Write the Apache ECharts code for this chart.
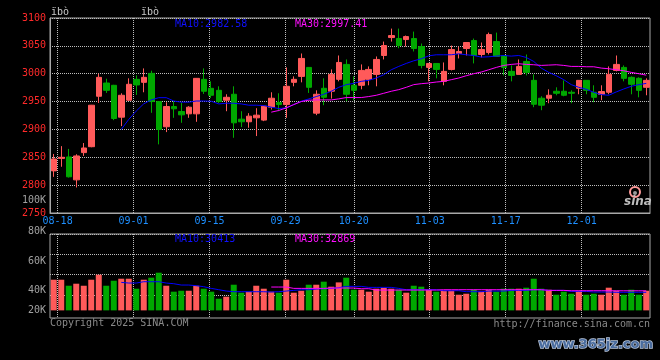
<!DOCTYPE html>
<html>
<head>
<meta charset="utf-8">
<script src="https://cdn.jsdelivr.net/npm/echarts/dist/echarts.min.js"></script>
<style>
html,body{margin:0;padding:0;background:#000;}
#c{width:660px;height:360px;}
</style>
</head>
<body>
<div id="c"></div>
<script>
// ---- data ----
const dates = ['08-15','08-18','08-19','08-20','08-21','08-22','08-25','08-26','08-27','08-28','08-29',
 '09-01','09-02','09-03','09-04','09-05','09-08','09-09','09-10','09-11','09-12',
 '09-15','09-16','09-17','09-18','09-19','09-22','09-23','09-24','09-25','09-26',
 '09-29','09-30','10-09','10-10','10-13','10-14','10-15','10-16','10-17',
 '10-20','10-21','10-22','10-23','10-24','10-27','10-28','10-29','10-30','10-31',
 '11-03','11-04','11-05','11-06','11-07','11-10','11-11','11-12','11-13','11-14',
 '11-17','11-18','11-19','11-20','11-21','11-24','11-25','11-26','11-27','11-28',
 '12-01','12-02','12-03','12-04','12-05','12-08','12-09','12-10','12-11','12-12'];
const tickLabels = ['08-18','09-01','09-15','09-29','10-20','11-03','11-17','12-01'];

const open = [2825.6,2848.0,2850.6,2809.5,2858.4,2869.0,2959.5,2983.3,2979.2,2922.0,
 2952.4,2989.9,2984.5,3000.6,2950.0,2904.8,2941.0,2932.1,2928.0,2928.0,
 2989.9,2973.8,2970.2,2952.4,2963.1,2918.4,2913.7,2920.8,2916.7,2939.9,
 2948.2,2944.6,2984.5,2995.2,3011.3,2929.2,2973.8,2968.5,2989.9,3016.7,
 2979.2,2979.2,2989.9,2998.8,3032.7,3064.9,3063.1,3061.3,3063.1,3048.8,
 3011.3,3018.4,2986.3,3007.7,3036.3,3045.2,3059.5,3034.5,3038.1,3057.7,
 3032.7,3004.2,2998.8,3022.0,2988.1,2956.0,2956.0,2968.5,2968.5,2966.7,
 2973.8,2988.1,2966.7,2963.0,2966.7,3005.9,3011.3,2993.5,2991.7,2975.6];
const close = [2847.0,2850.0,2815.0,2852.4,2866.7,2943.5,2993.5,2970.2,2919.6,2961.3,
 2981.0,2979.8,2993.5,2950.0,2900.0,2941.1,2937.0,2926.2,2939.9,2991.7,
 2968.5,2961.3,2950.0,2957.7,2911.9,2913.7,2923.8,2925.6,2941.7,2956.0,
 2944.6,2977.4,2989.9,3027.4,2975.6,2963.1,2957.7,2998.8,3020.2,2963.1,
 2970.2,3005.9,3007.7,3025.6,3050.6,3068.5,3050.6,3066.7,3045.2,3014.9,
 3018.4,3007.7,3004.2,3043.4,3039.9,3056.0,3032.7,3043.4,3070.2,3031.0,
 3011.3,2997.0,3013.1,3002.4,2945.2,2943.5,2961.3,2964.9,2961.3,2964.9,
 2988.1,2970.2,2957.7,2968.0,2998.8,3016.7,2991.7,2981.0,2970.2,2988.1];
const low = [2814.9,2833.0,2813.7,2795.8,2852.4,2868.0,2947.6,2965.5,2916.6,2906.0,
 2951.0,2961.9,2966.7,2929.8,2873.2,2895.2,2920.8,2911.9,2920.8,2913.7,
 2963.7,2956.6,2947.6,2932.7,2885.0,2904.2,2903.0,2888.1,2914.9,2935.7,
 2932.7,2920.8,2977.4,2984.5,2965.5,2925.6,2943.5,2955.4,2986.3,2950.6,
 2952.4,2972.0,2979.2,2977.4,3025.6,3057.7,3045.8,3048.8,3039.9,3009.5,
 2986.3,2991.7,2979.2,3005.9,3027.4,3032.7,3018.5,3029.2,3034.5,3031.0,
 2997.0,2986.3,2998.8,2997.0,2939.9,2934.5,2947.0,2961.3,2959.5,2947.0,
 2963.1,2963.1,2948.8,2952.4,2963.1,3004.2,2986.3,2963.1,2957.7,2961.3];
const high = [2856.0,2870.0,2865.0,2855.4,2875.6,2944.0,3000.0,2991.0,2980.0,2964.9,
 2991.7,2997.0,3009.5,3005.4,2950.6,2948.8,2950.6,2948.2,2941.7,2992.0,
 3009.5,2986.3,2977.4,2963.1,2977.4,2932.7,2929.2,2938.1,2942.0,2966.7,
 2964.9,3011.3,2995.2,3036.3,3011.5,2970.2,2991.7,3007.7,3032.7,3025.6,
 2995.2,3016.7,3013.1,3031.0,3057.7,3081.0,3081.0,3068.5,3075.6,3054.2,
 3018.4,3018.4,3020.2,3050.6,3048.8,3056.0,3063.1,3056.0,3073.8,3073.8,
 3032.7,3014.9,3025.6,3034.5,2998.8,2959.5,2972.0,2975.6,2988.1,2970.2,
 2988.1,2988.1,2979.2,2979.2,3013.1,3032.7,3014.9,2995.2,2993.5,2991.7];

const ma10 = [null,null,null,null,null,null,null,null,null,2900,
 2918,2933,2946,2953,2957,2957,2951,2949,2949,2951,
 2951,2950.6,2945.8,2947,2947,2945.8,2943.5,2943.5,2942.9,2939.9,
 2937.5,2938.7,2944.6,2950.6,2954.8,2959,2963.1,2968.5,2975.6,2980.4,
 2982.7,2986.3,2988.1,2992.3,2998.2,3007.1,3013.1,3018.5,3023.2,3026.8,
 3032.1,3034,3034,3034,3035.7,3034,3032.7,3029.8,3030.4,3031.6,
 3032.7,3031.6,3032.7,3029.2,3022,3010.1,3002.4,2996.4,2989.3,2980.4,
 2975.6,2972,2966.7,2962.5,2961.3,2967.3,2972.6,2977.4,2980.4,2982.58];
const ma30 = [null,null,null,null,null,null,null,null,null,null,
 null,null,null,null,null,null,null,null,null,null,
 null,null,null,null,null,null,null,null,null,2931,
 2934,2938.7,2944.6,2950,2952.4,2953,2953,2953,2954.8,2957.2,
 2957.2,2957.2,2959,2961.3,2964.9,2968.5,2971.4,2975.6,2980.4,2982.1,
 2983.3,2985.1,2986.3,2989.3,2992.3,2996.4,3000,3003,3007.1,3011.3,
 3014.9,3016.7,3017.9,3016.7,3016.1,3014.9,3015.5,3016.1,3014.9,3013.1,
 3013.1,3012.5,3012.5,3010.1,3008.9,3007.1,3005.3,3002.4,3000,2997.41];

const volume = [51500,51500,41400,44800,41400,51500,59900,41400,49800,53200,
 53200,36400,51500,54900,63300,41400,31400,33000,33000,41400,
 36400,31400,19600,23000,43100,29700,31400,41400,36400,31400,
 29700,51500,29700,33000,43100,43100,48200,39800,47000,54900,
 34700,34700,31400,36400,38100,36400,34700,29700,41400,39800,
 34700,31400,33000,33000,26300,28000,34700,31400,34700,31400,
 36400,36400,36400,38100,53200,36400,34700,26300,31400,28000,
 33000,26300,28000,26300,38100,33000,26300,34700,26300,33000];
const volMa10 = [null,null,null,null,null,null,null,null,null,47040,
 45920,45920,48160,48160,48160,45920,44800,42560,42560,41440,
 39760,36960,34720,32480,31360,31360,31360,31360,31360,30800,
 31360,32480,33600,34720,34720,35840,36400,36960,38080,40320,
 40320,40320,38640,38640,38640,38640,36960,34720,34720,34720,
 34720,34720,33040,33040,33040,31360,31360,31360,32480,32480,
 32480,33600,33600,33600,34720,34720,33600,33600,33600,31920,
 31920,31920,30800,30800,30800,30400,30400,30400,30400,30413];
const volMa30 = [null,null,null,null,null,null,null,null,null,null,
 null,null,null,null,null,null,null,null,null,null,
 null,null,null,null,null,null,null,null,null,39200,
 39200,39200,36960,36960,36960,36960,36960,37520,37520,37520,
 37520,36400,36400,34160,34160,34160,34160,34160,34160,34160,
 34160,34160,34720,34720,34720,34720,34720,34720,34720,34720,
 34720,34720,34720,34720,34720,34720,33600,33600,33600,33000,
 33000,33000,33000,33000,33000,32900,32900,32900,32900,32869];

const priceTicks = ['3100','3050','3000','2950','2900','2850','2800','2750'];
const volTicks = ['80K','60K','40K','20K'];

// ---- styles ----
const UP = '#ff5a5a', DOWN = '#00a800';
const MONO = 'DejaVu Sans Mono';
const GRIDC = '#bdbdbd', FRAME = '#a8a8a8';
const showTick = (i) => tickLabels.indexOf(dates[i]) >= 0;

const candle = dates.map((d, i) => [open[i], close[i], low[i], high[i]]);

const chart = echarts.init(document.getElementById('c'), null, {renderer: 'canvas'});

function txt(x, y, text, color, align, size, extra) {
  return {
    type: 'text', x: x, y: y, silent: true, z: 100,
    style: Object.assign({
      text: text, fill: color, font: (size || 10) + 'px "' + MONO + '"',
      textAlign: align || 'left', align: align || 'left',
      textVerticalAlign: 'middle', verticalAlign: 'middle'
    }, extra || {})
  };
}

const graphics = [
  txt(51, 12, 'ïbò', '#c8c8c8'),
  txt(141, 12, 'ïbò', '#c8c8c8'),
  txt(175, 24, 'MA10:2982.58', '#1010ff'),
  txt(295, 24, 'MA30:2997.41', '#ff10ff'),
  txt(46, 200, '100K', '#a0a0a0', 'right'),
  txt(175, 239, 'MA10:30413', '#1010ff'),
  txt(295, 239, 'MA30:32869', '#ff10ff'),
  txt(46, 231, volTicks[0], '#a0a0a0', 'right'),
  txt(46, 261, volTicks[1], '#a0a0a0', 'right'),
  txt(46, 290.5, volTicks[2], '#a0a0a0', 'right'),
  txt(46, 310.5, volTicks[3], '#a0a0a0', 'right'),
  txt(50, 323.5, 'Copyright 2025 SINA.COM', '#8a8a8a'),
  txt(650, 324, 'http://finance.sina.com.cn', '#8a8a8a', 'right'),
  {type: 'circle', shape: {cx: 635, cy: 192, r: 5}, silent: true, z: 100,
   style: {fill: 'none', stroke: '#ff9a9a', lineWidth: 2}},
  {type: 'circle', shape: {cx: 635, cy: 193, r: 2}, silent: true, z: 100,
   style: {fill: '#9a9a9a'}},
  txt(624, 202, 'sina', '#bdbdbd', 'left', 12, {font: 'italic bold 12px "DejaVu Sans"'}),
  txt(653, 345, 'www.365jz.com', '#4a6c9e', 'right', 13,
      {font: 'bold 13px "DejaVu Sans"', stroke: '#b8c4d8', lineWidth: 1.5})
];

const dotted = {show: true, lineStyle: {color: GRIDC, type: [1, 1], width: 1}};

const option = {
  animation: false,
  backgroundColor: '#000',
  graphic: graphics,
  grid: [
    {left: 50, top: 18, width: 600, height: 195, show: true, borderColor: FRAME, borderWidth: 1, backgroundColor: 'transparent'},
    {left: 50, top: 234, width: 600, height: 84, show: true, borderColor: FRAME, borderWidth: 1, backgroundColor: 'transparent'},
    {left: 50, top: 234, width: 600, height: 61, show: false}
  ],
  xAxis: [
    {gridIndex: 0, type: 'category', data: dates, boundaryGap: true, show: false},
    {gridIndex: 0, type: 'category', data: dates, boundaryGap: false, position: 'bottom',
     axisLine: {show: true, lineStyle: {color: FRAME}}, axisTick: {show: false},
     axisLabel: {interval: (i) => showTick(i), color: '#1e8fff', fontFamily: MONO, fontSize: 10, margin: 3},
     splitLine: Object.assign({interval: (i) => showTick(i)}, dotted)},
    {gridIndex: 1, type: 'category', data: dates, boundaryGap: true, show: false},
    {gridIndex: 1, type: 'category', data: dates, boundaryGap: false,
     axisLine: {show: false}, axisTick: {show: false}, axisLabel: {show: false},
     splitLine: Object.assign({interval: (i) => showTick(i)}, dotted)},
    {gridIndex: 2, type: 'category', data: dates, show: false}
  ],
  yAxis: [
    {gridIndex: 0, type: 'value', min: 2750, max: 3100, interval: 50,
     axisLine: {show: true, lineStyle: {color: FRAME}}, axisTick: {show: false},
     axisLabel: {color: '#ff2a2a', fontFamily: MONO, fontSize: 10, margin: 4,
                 formatter: (v) => priceTicks.indexOf(String(v)) >= 0 ? String(v) : ''},
     splitLine: dotted},
    {gridIndex: 1, type: 'value', min: -12800, max: 128300, show: false, splitLine: {show: false}},
    {gridIndex: 2, type: 'value', min: 0, max: 3, interval: 1,
     axisLine: {show: false}, axisTick: {show: false}, axisLabel: {show: false}, splitLine: dotted}
  ],
  series: [
    {type: 'candlestick', xAxisIndex: 0, yAxisIndex: 0, data: candle, barWidth: 6,
     itemStyle: {color: UP, color0: DOWN, borderColor: UP, borderColor0: DOWN, borderWidth: 1}},
    {type: 'line', xAxisIndex: 0, yAxisIndex: 0, data: ma10, showSymbol: false, z: 5,
     lineStyle: {color: '#0000ff', width: 1}, itemStyle: {color: '#0000ff'}},
    {type: 'line', xAxisIndex: 0, yAxisIndex: 0, data: ma30, showSymbol: false, z: 5,
     lineStyle: {color: '#ff00ff', width: 1}, itemStyle: {color: '#ff00ff'}},
    {type: 'bar', xAxisIndex: 2, yAxisIndex: 1, data: volume, barWidth: 6,
     itemStyle: {color: (p) => close[p.dataIndex] >= open[p.dataIndex] ? UP : DOWN}},
    {type: 'line', xAxisIndex: 2, yAxisIndex: 1, data: volMa10, showSymbol: false, z: 5,
     lineStyle: {color: '#0000ff', width: 1}, itemStyle: {color: '#0000ff'}},
    {type: 'line', xAxisIndex: 2, yAxisIndex: 1, data: volMa30, showSymbol: false, z: 5,
     lineStyle: {color: '#ff00ff', width: 1}, itemStyle: {color: '#ff00ff'}}
  ]
};
chart.setOption(option);
</script>
</body>
</html>
